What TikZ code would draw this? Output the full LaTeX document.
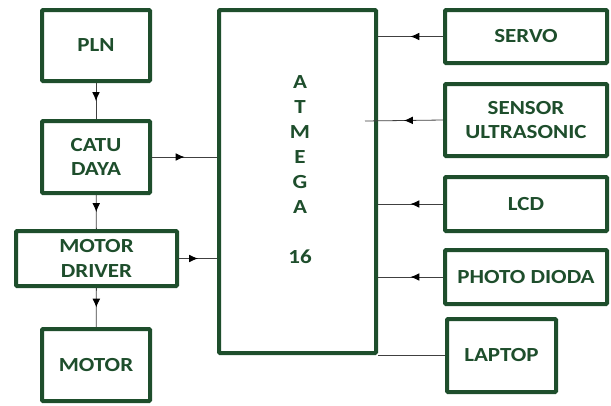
\documentclass[tikz,border=0pt]{standalone}
\usepackage{fontspec}
\newfontfamily\blockfont{Carlito}[FakeStretch=1.15]
\usetikzlibrary{arrows.meta,positioning,decorations.markings}
\definecolor{boxgreen}{HTML}{1E4E2C}
\tikzset{
  >=Latex,
  blk/.style={rectangle, draw=boxgreen, line width=4pt, rounded corners=1pt,
    fill=white, text=boxgreen, align=center, inner sep=0pt,
    font=\blockfont\bfseries\fontsize{20}{24.5}\selectfont},
  wire/.style={line width=0.8pt, black!75},
  midarrow/.style={wire, decoration={markings,
    mark=at position 0.5 with {\arrow[black, scale=1.1]{Latex[length=8pt,width=7pt]}}},
    postaction={decorate}}
}
\begin{document}
\begin{tikzpicture}[x=1pt, y=-1pt]
\useasboundingbox (0,0) rectangle (611,405);

% --- Power side ---
\node[blk, minimum width=108pt, minimum height=71pt] (pln) at (96,45.5) {PLN};
\node[blk, minimum width=108pt, minimum height=72pt] (catu) at (96,157) {CATU\\DAYA};
\node[blk, minimum width=161pt, minimum height=55pt] (driver) at (96.5,258.5) {MOTOR\\DRIVER};
\node[blk, minimum width=108pt, minimum height=72pt] (motor) at (96,365) {MOTOR};

% --- Microcontroller ---
\node[blk, minimum width=157pt, minimum height=343pt] (atmega) at (297.5,181.5) {};
\node[text=boxgreen, align=center, inner sep=0pt,
  font=\blockfont\bfseries\fontsize{20}{25}\selectfont] (chip) at (300,170)
  {A\\T\\M\\E\\G\\A\\[25pt]16};

% --- Peripherals ---
\node[blk, minimum width=162pt, minimum height=53pt] (servo) at (526,36.5) {SERVO};
\node[blk, minimum width=162pt, minimum height=72pt] (sensor) at (526,120) {SENSOR\\ULTRASONIC};
\node[blk, minimum width=162pt, minimum height=54pt] (lcd) at (526,204) {LCD};
\node[blk, minimum width=162pt, minimum height=54pt] (photo) at (526,277) {PHOTO DIODA};
\node[blk, minimum width=109pt, minimum height=73pt] (laptop) at (501.5,355.5) {LAPTOP};
\coordinate (sensorEnd) at (365,121);

% Connections
\draw[midarrow] (pln) -- (catu);
\draw[midarrow] (catu) -- (driver);
\draw[midarrow] (driver) -- (motor);
\draw[midarrow] (catu.east) -- (catu.east -| atmega.west);
\draw[midarrow] (driver.east) -- (driver.east -| atmega.west);
\draw[midarrow] (servo.west) -- (servo.west -| atmega.east);
\draw[midarrow] (sensor.west) -- (sensorEnd);
\draw[midarrow] (lcd.west) -- (lcd.west -| atmega.east);
\draw[midarrow] (photo.west) -- (photo.west -| atmega.east);
\draw[wire] (laptop.west) -- (laptop.west -| atmega.east);

\end{tikzpicture}
\end{document}
